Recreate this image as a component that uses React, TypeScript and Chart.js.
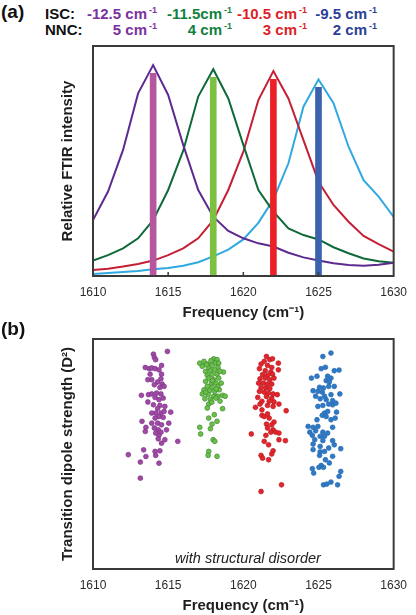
import React, { useEffect, useRef } from 'react';
import { Chart, registerables } from 'chart.js';

Chart.register(...registerables);

const FONT = "'Liberation Sans', Arial, Helvetica, sans-serif";

// ---------- Panel (a) data ----------
const frequencies = [1610, 1611, 1612, 1613, 1614, 1615, 1616, 1617, 1618, 1619, 1620, 1621, 1622, 1623, 1624, 1625, 1626, 1627, 1628, 1629, 1630];
const purpleCurve = [24.3, 36.7, 54.8, 79.4, 91.7, 78.7, 57.0, 37.4, 25.8, 19.6, 16.4, 14.2, 12.8, 10.1, 8.1, 6.7, 5.5, 4.8, 4.5, 4.9, 5.8];
const greenCurve = [6.7, 9.1, 12.0, 16.4, 24.3, 37.4, 54.5, 78.0, 89.9, 77.2, 57.0, 37.4, 28.0, 20.7, 17.8, 15.9, 12.5, 9.9, 7.6, 6.4, 5.8];
const redCurve = [2.6, 3.2, 4.1, 5.2, 6.7, 9.1, 12.0, 16.4, 24.3, 37.4, 54.1, 76.5, 89.1, 77.2, 59.1, 41.0, 30.9, 23.6, 17.4, 13.9, 10.6];
const cyanCurve = [0.9, 1.3, 1.7, 2.2, 2.9, 3.5, 4.5, 6.0, 8.5, 11.5, 15.9, 23.1, 33.3, 49.0, 73.6, 85.5, 75.1, 56.2, 41.7, 34.5, 25.7];
const stickFrequencies = [1614, 1618, 1622, 1625];
const stickHeights = [88.1, 86.4, 85.5, 82.0];
const xTickValues = [1610, 1615, 1620, 1625, 1630];

const iscLabels = ['-12.5 cm', '-11.5cm', '-10.5 cm', '-9.5 cm'];
const nncLabels = ['5 cm', '4 cm', '3 cm', '2 cm'];

// ---------- Panel (b) data ----------
const purpleFreq = [1614.95, 1614.02, 1614.08, 1614.17, 1613.48, 1613.74, 1613.91, 1614.13, 1614.56, 1614.39, 1613.80, 1614.56, 1613.65, 1613.91, 1614.52, 1614.30, 1614.08, 1614.60, 1614.45, 1614.73, 1613.22, 1613.69, 1613.91, 1614.23, 1614.52, 1614.13, 1613.65, 1614.39, 1614.67, 1614.02, 1614.45, 1614.78, 1614.30, 1614.17, 1613.91, 1614.52, 1614.73, 1615.17, 1614.39, 1614.13, 1614.67, 1613.26, 1613.91, 1614.30, 1614.56, 1615.04, 1613.52, 1614.08, 1614.34, 1614.52, 1614.89, 1614.17, 1614.39, 1613.48, 1614.34, 1614.78, 1614.56, 1615.64, 1614.13, 1614.45, 1613.37, 1612.35, 1613.52, 1614.17, 1613.15, 1614.39, 1613.15];
const purpleStrength = [94.6, 93.4, 92.0, 91.0, 87.6, 87.1, 87.4, 87.1, 88.5, 86.6, 84.7, 84.7, 82.3, 82.3, 82.7, 81.3, 80.1, 80.4, 78.9, 79.4, 75.5, 75.8, 76.1, 76.5, 76.1, 74.6, 72.6, 73.6, 74.3, 71.4, 71.1, 70.7, 69.7, 67.8, 67.8, 67.8, 68.5, 68.2, 66.3, 65.6, 65.9, 64.2, 63.4, 63.4, 62.7, 63.4, 61.6, 61.3, 60.5, 59.5, 60.5, 59.1, 58.1, 59.8, 56.6, 56.2, 54.7, 55.5, 51.1, 51.4, 51.8, 49.7, 48.9, 49.4, 46.5, 46.0, 39.5];

const greenFreq = [1617.10, 1617.38, 1617.60, 1618.03, 1618.25, 1618.14, 1618.36, 1617.27, 1617.70, 1617.92, 1618.31, 1617.49, 1617.81, 1618.10, 1618.68, 1617.60, 1617.92, 1618.25, 1617.70, 1618.03, 1618.36, 1617.49, 1617.88, 1618.18, 1618.53, 1617.60, 1617.92, 1618.31, 1617.38, 1617.75, 1618.10, 1618.40, 1617.27, 1617.66, 1618.03, 1618.31, 1618.62, 1618.79, 1617.44, 1617.81, 1618.18, 1617.70, 1617.60, 1618.62, 1618.07, 1617.70, 1618.25, 1617.92, 1617.10, 1617.81, 1617.16, 1617.99, 1618.10, 1617.70, 1617.66, 1618.25, 1617.55, 1617.85, 1618.45, 1617.95, 1618.20, 1617.50, 1618.45, 1617.90];
const greenStrength = [89.5, 90.3, 89.1, 91.4, 91.0, 89.5, 89.5, 88.1, 87.6, 88.5, 87.6, 85.9, 86.2, 86.6, 85.6, 84.2, 84.5, 84.7, 83.0, 82.3, 83.0, 81.6, 80.8, 80.8, 80.8, 79.4, 79.0, 79.4, 77.9, 77.5, 77.2, 77.9, 76.1, 75.8, 75.1, 75.1, 75.5, 75.1, 74.0, 73.6, 74.3, 71.7, 70.0, 69.7, 67.1, 65.6, 64.2, 63.0, 61.6, 61.0, 58.7, 56.2, 55.5, 51.1, 49.4, 49.0, 88.8, 90.6, 86.0, 81.9, 78.3, 76.8, 73.0, 72.5];

const redFreq = [1621.54, 1621.76, 1621.94, 1621.39, 1621.18, 1621.61, 1621.89, 1622.33, 1621.07, 1621.46, 1621.83, 1622.33, 1621.28, 1621.61, 1621.94, 1621.11, 1621.46, 1621.76, 1622.04, 1621.02, 1621.33, 1621.61, 1621.89, 1621.18, 1621.50, 1621.76, 1621.07, 1621.39, 1621.68, 1621.98, 1622.26, 1620.96, 1621.54, 1621.89, 1621.24, 1621.72, 1622.04, 1621.11, 1621.61, 1621.98, 1622.37, 1620.81, 1621.24, 1622.85, 1621.24, 1621.39, 1621.61, 1621.72, 1622.04, 1621.54, 1621.89, 1621.61, 1621.98, 1621.83, 1622.15, 1622.37, 1620.53, 1621.50, 1622.37, 1622.80, 1621.39, 1621.68, 1621.98, 1621.89, 1621.18, 1621.28, 1621.68, 1622.54, 1621.18];
const redStrength = [92.4, 91.0, 91.4, 90.3, 89.1, 88.5, 87.6, 89.5, 87.1, 86.2, 85.6, 86.6, 84.5, 84.2, 84.7, 82.7, 83.0, 82.3, 83.0, 80.8, 80.8, 80.4, 80.4, 78.9, 78.7, 78.4, 77.2, 76.9, 76.5, 76.1, 75.8, 74.6, 75.0, 74.3, 72.9, 72.9, 72.6, 71.7, 71.1, 70.7, 71.7, 70.3, 69.2, 68.8, 66.8, 66.3, 67.4, 65.6, 63.9, 63.0, 62.7, 61.3, 60.5, 59.5, 59.5, 59.1, 58.7, 58.1, 56.2, 55.8, 55.5, 54.0, 51.4, 50.0, 49.4, 48.2, 47.5, 36.6, 33.7];

const blueFreq = [1625.83, 1625.29, 1625.18, 1625.46, 1626.05, 1626.37, 1624.53, 1624.90, 1625.61, 1625.83, 1625.51, 1625.72, 1625.07, 1625.33, 1625.68, 1626.05, 1624.64, 1624.96, 1625.25, 1626.42, 1624.81, 1625.40, 1625.83, 1625.11, 1625.51, 1625.94, 1624.96, 1625.29, 1625.68, 1625.94, 1626.16, 1625.40, 1625.61, 1626.20, 1625.25, 1625.51, 1624.90, 1625.83, 1626.11, 1624.31, 1624.64, 1624.96, 1625.94, 1624.42, 1624.81, 1625.29, 1625.61, 1625.11, 1624.59, 1625.40, 1624.75, 1625.29, 1625.94, 1624.64, 1625.11, 1626.05, 1625.68, 1624.64, 1625.11, 1625.40, 1626.48, 1625.07, 1625.94, 1625.46, 1625.72, 1625.18, 1624.59, 1625.03, 1625.33, 1626.48, 1624.68, 1626.37, 1625.33, 1625.55, 1625.83, 1626.27];
const blueStrength = [93.9, 92.4, 87.1, 87.7, 86.2, 86.5, 83.0, 83.8, 83.8, 83.0, 81.9, 81.3, 79.0, 78.7, 79.4, 79.4, 77.5, 77.2, 76.9, 76.1, 75.1, 75.1, 75.8, 74.0, 73.6, 73.2, 70.7, 71.1, 71.7, 71.4, 72.1, 67.8, 68.5, 68.2, 66.8, 66.3, 64.9, 64.9, 65.6, 62.0, 61.6, 62.0, 61.6, 59.5, 60.1, 59.5, 59.1, 57.7, 58.1, 57.7, 56.2, 55.8, 55.8, 54.3, 53.3, 54.0, 52.6, 51.9, 50.9, 51.1, 52.3, 49.4, 49.0, 47.5, 46.1, 45.0, 43.6, 44.2, 44.2, 42.4, 41.7, 40.3, 36.6, 36.9, 37.8, 36.6];

const toPoints = (xs: number[], ys: number[]) => xs.map((x, i) => ({ x, y: ys[i] }));

const framePlugin = {
  id: 'frame',
  afterDatasetsDraw(chart: any) {
    const { ctx, chartArea: a } = chart;
    ctx.save();
    ctx.strokeStyle = '#3a3a3a';
    ctx.lineWidth = 2;
    ctx.strokeRect(a.left, a.top, a.right - a.left, a.bottom - a.top);
    ctx.restore();
  },
};

const innerTicksPlugin = {
  id: 'innerTicks',
  afterDatasetsDraw(chart: any) {
    const { ctx, chartArea: a } = chart;
    const xs = chart.scales.x;
    ctx.save();
    ctx.strokeStyle = '#3a3a3a';
    ctx.lineWidth = 1.5;
    ctx.beginPath();
    xTickValues.slice(1, -1).forEach((v) => {
      const px = xs.getPixelForValue(v);
      ctx.moveTo(px, a.bottom);
      ctx.lineTo(px, a.bottom - 4);
    });
    ctx.stroke();
    ctx.restore();
  },
};

const xScale = (xHeight: number, titleBottomPad: number) => ({
  type: 'linear',
  min: 1610,
  max: 1630,
  offset: false,
  grid: { display: false, drawTicks: false, offset: false },
  border: { display: false },
  afterBuildTicks: (s: any) => {
    s.ticks = xTickValues.map((v) => ({ value: v }));
  },
  ticks: {
    padding: 9,
    color: '#2b2b2b',
    font: { size: 12, family: FONT },
    maxRotation: 0,
    autoSkip: false,
    callback: (v: any) => String(v),
  },
  title: {
    display: true,
    text: 'Frequency (cm⁻¹)',
    color: '#1e1e1e',
    font: { size: 15, weight: 'bold', family: FONT },
    padding: { top: 0, bottom: titleBottomPad },
  },
  afterFit: (s: any) => {
    s.height = xHeight;
  },
});

const yScale = (title: string) => ({
  type: 'linear',
  min: 0,
  max: 100,
  grid: { display: false, drawTicks: false },
  border: { display: false },
  ticks: { display: false },
  title: {
    display: true,
    text: title,
    color: '#1e1e1e',
    font: { size: 15, weight: 'bold', family: FONT },
    padding: { top: 59, bottom: 0 },
  },
  afterFit: (s: any) => {
    s.width = 93;
  },
});

const absText = (extra: React.CSSProperties): React.CSSProperties => ({
  position: 'absolute',
  fontFamily: FONT,
  fontWeight: 'bold',
  whiteSpace: 'nowrap',
  ...extra,
});

export default function App() {
  const refA = useRef<HTMLCanvasElement>(null);
  const refB = useRef<HTMLCanvasElement>(null);

  useEffect(() => {
    const chartA = new Chart(refA.current as HTMLCanvasElement, {
      type: 'line',
      data: {
        datasets: [
          {
            type: 'bar',
            data: toPoints(stickFrequencies, stickHeights),
            backgroundColor: ['#b5579f', '#7cc142', '#ec2128', '#3a62ad'],
            borderWidth: 0,
            barThickness: 6,
            grouped: false,
            order: 0,
          } as any,
          { data: toPoints(frequencies, purpleCurve), borderColor: '#5d2a90', order: 1 },
          { data: toPoints(frequencies, greenCurve), borderColor: '#0f6a3a', order: 1 },
          { data: toPoints(frequencies, redCurve), borderColor: '#c41f35', order: 1 },
          { data: toPoints(frequencies, cyanCurve), borderColor: '#2fa9e0', order: 1 },
        ],
      },
      options: {
        animation: false,
        responsive: false,
        events: [],
        layout: { padding: { top: 6, right: 15, bottom: 0, left: 0 } },
        elements: {
          line: { borderWidth: 2, tension: 0, fill: false },
          point: { radius: 0 },
        },
        plugins: { legend: { display: false }, tooltip: { enabled: false } },
        scales: {
          x: xScale(49, 3) as any,
          y: yScale('Relative FTIR intensity') as any,
        },
      },
      plugins: [framePlugin, innerTicksPlugin],
    });

    const dot = (fill: string, border: string) => ({
      backgroundColor: fill,
      borderColor: border,
      borderWidth: 0.7,
      pointRadius: 2.4,
    });

    const chartB = new Chart(refB.current as HTMLCanvasElement, {
      type: 'scatter',
      data: {
        datasets: [
          { data: toPoints(purpleFreq, purpleStrength), ...dot('#a04aa6', '#7d3288') },
          { data: toPoints(greenFreq, greenStrength), ...dot('#6cc04a', '#3b8a2c') },
          { data: toPoints(redFreq, redStrength), ...dot('#e5252b', '#b51d23') },
          { data: toPoints(blueFreq, blueStrength), ...dot('#2d7ac6', '#2a68b0') },
        ],
      },
      options: {
        animation: false,
        responsive: false,
        events: [],
        layout: { padding: { top: 9, right: 15, bottom: 0, left: 0 } },
        plugins: { legend: { display: false }, tooltip: { enabled: false } },
        scales: {
          x: xScale(46, 0) as any,
          y: yScale('Transition dipole strength (D²)') as any,
        },
      },
      plugins: [framePlugin],
    });

    return () => {
      chartA.destroy();
      chartB.destroy();
    };
  }, []);

  const colColors = ['#7a32a0', '#137f3f', '#dc1f2a', '#2c3f95'];
  const colRights = [416 - 157, 416 - 232, 416 - 307, 416 - 377];
  const sup: React.CSSProperties = { fontSize: 9, position: 'relative', top: -6, marginLeft: 2 };

  return (
    <div style={{ position: 'fixed', left: 0, top: 0, width: 416, height: 615, background: '#fff', overflow: 'hidden' }}>
      <div style={absText({ left: 1, top: 2, fontSize: 19, lineHeight: '20px', color: '#111' })}>(a)</div>
      <div style={absText({ left: 45, top: 6, fontSize: 15, lineHeight: '16px', color: '#111' })}>ISC:</div>
      <div style={absText({ left: 45, top: 22, fontSize: 15, lineHeight: '16px', color: '#111' })}>NNC:</div>
      {iscLabels.map((t, i) => (
        <div key={'isc' + i} style={absText({ right: colRights[i], top: 6, fontSize: 15, lineHeight: '16px', color: colColors[i] })}>
          {t}
          <span style={sup}>-1</span>
        </div>
      ))}
      {nncLabels.map((t, i) => (
        <div key={'nnc' + i} style={absText({ right: colRights[i], top: 22, fontSize: 15, lineHeight: '16px', color: colColors[i] })}>
          {t}
          <span style={sup}>-1</span>
        </div>
      ))}
      <canvas ref={refA} width={416} height={285} style={{ position: 'absolute', left: 0, top: 40, width: 416, height: 285 }} />
      <div style={absText({ left: 1, top: 319, fontSize: 19, lineHeight: '20px', color: '#111' })}>(b)</div>
      <canvas ref={refB} width={416} height={285} style={{ position: 'absolute', left: 0, top: 330, width: 416, height: 285 }} />
      <div
        style={absText({
          left: 93,
          width: 310,
          top: 550,
          textAlign: 'center',
          fontSize: 14.5,
          lineHeight: '16px',
          fontWeight: 'normal',
          fontStyle: 'italic',
          color: '#222',
        })}
      >
        with structural disorder
      </div>
    </div>
  );
}
